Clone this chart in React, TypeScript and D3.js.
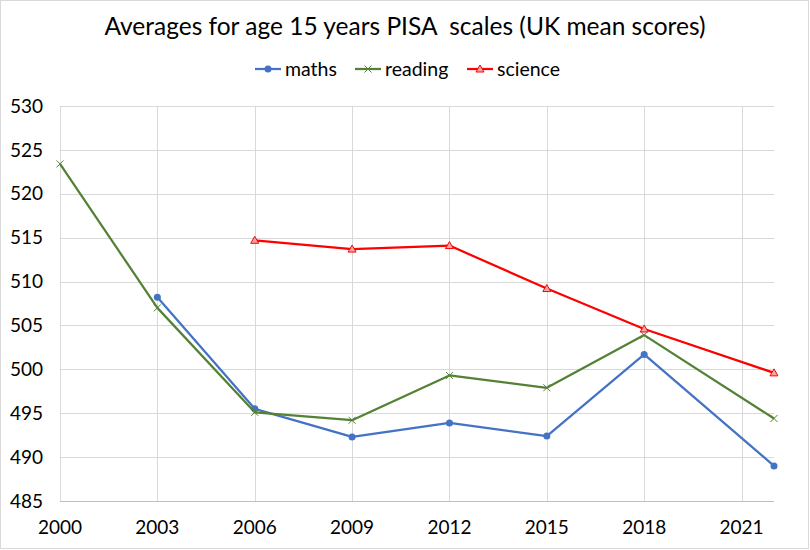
import React, { useEffect, useRef } from "react";
import * as d3 from "d3";

const years = [2000, 2003, 2006, 2009, 2012, 2015, 2018, 2022];
const xTicks = [2000, 2003, 2006, 2009, 2012, 2015, 2018, 2021];
const yTicks = [485, 490, 495, 500, 505, 510, 515, 520, 525, 530];

const maths: (number | null)[] = [null, 508.2, 495.5, 492.3, 493.9, 492.4, 501.7, 489.0];
const reading: (number | null)[] = [523.4, 507.0, 495.1, 494.2, 499.3, 497.9, 503.9, 494.4];
const science: (number | null)[] = [null, null, 514.7, 513.7, 514.1, 509.2, 504.6, 499.6];

const seriesNames = ["maths", "reading", "science"];
const seriesColors = ["#4472C4", "#548235", "#FF0000"];

const FONT = "Lato, 'Open Sans', sans-serif";

const App: React.FC = () => {
  const svgRef = useRef<SVGSVGElement | null>(null);

  useEffect(() => {
    if (!svgRef.current) return;
    const svg = d3.select(svgRef.current);
    svg.selectAll("*").remove();

    const width = 810;
    const height = 550;
    const margin = { top: 106, right: 36, bottom: 49, left: 60 };

    // chart frame
    svg
      .append("rect")
      .attr("x", 0.5)
      .attr("y", 0.5)
      .attr("width", width - 2)
      .attr("height", height - 2)
      .attr("fill", "white")
      .attr("stroke", "#d9d9d9");

    const xScale = d3
      .scaleLinear()
      .domain([2000, 2022])
      .range([margin.left, width - margin.right]);

    const yScale = d3
      .scaleLinear()
      .domain([485, 530])
      .range([height - margin.bottom, margin.top]);

    // gridlines
    svg
      .append("g")
      .selectAll("line.hgrid")
      .data(yTicks)
      .enter()
      .append("line")
      .attr("x1", margin.left)
      .attr("x2", width - margin.right)
      .attr("y1", (d) => Math.round(yScale(d)) + 0.5)
      .attr("y2", (d) => Math.round(yScale(d)) + 0.5)
      .attr("stroke", "#d9d9d9")
      .attr("stroke-width", 1);

    svg
      .append("g")
      .selectAll("line.vgrid")
      .data(xTicks)
      .enter()
      .append("line")
      .attr("x1", (d) => Math.round(xScale(d)) + 0.5)
      .attr("x2", (d) => Math.round(xScale(d)) + 0.5)
      .attr("y1", margin.top)
      .attr("y2", height - margin.bottom)
      .attr("stroke", "#d9d9d9")
      .attr("stroke-width", 1);

    // y tick labels
    svg
      .append("g")
      .selectAll("text")
      .data(yTicks)
      .enter()
      .append("text")
      .attr("x", 43)
      .attr("y", (d) => yScale(d))
      .attr("dy", "0.35em")
      .attr("text-anchor", "end")
      .style("font-family", FONT)
      .style("font-size", "19px")
      .attr("fill", "#000")
      .text((d) => d);

    // x tick labels
    svg
      .append("g")
      .selectAll("text")
      .data(xTicks)
      .enter()
      .append("text")
      .attr("x", (d) => xScale(d))
      .attr("y", 534)
      .attr("text-anchor", "middle")
      .style("font-family", FONT)
      .style("font-size", "19px")
      .attr("fill", "#000")
      .text((d) => d);

    // title
    svg
      .append("text")
      .attr("x", 405)
      .attr("y", 35)
      .attr("text-anchor", "middle")
      .style("font-family", FONT)
      .style("font-size", "24.5px")
      .attr("fill", "#000")
      .text("Averages for age 15 years PISA\u00a0 scales (UK mean scores)");

    const allSeries = [maths, reading, science];

    const drawMarker = (
      g: d3.Selection<SVGGElement, unknown, null, undefined>,
      idx: number,
      cx: number,
      cy: number
    ) => {
      const color = seriesColors[idx];
      if (idx === 0) {
        g.append("circle")
          .attr("cx", cx)
          .attr("cy", cy)
          .attr("r", 3.5)
          .attr("fill", color);
      } else if (idx === 1) {
        const s = 3.5;
        g.append("path")
          .attr("d", `M${cx - s},${cy - s}L${cx + s},${cy + s}M${cx - s},${cy + s}L${cx + s},${cy - s}`)
          .attr("stroke", color)
          .attr("stroke-width", 1);
      } else {
        const s = 4;
        g.append("path")
          .attr("d", `M${cx},${cy - s}L${cx + s},${cy + s * 0.75}L${cx - s},${cy + s * 0.75}Z`)
          .attr("fill", "#f4a6a6")
          .attr("stroke", color)
          .attr("stroke-width", 1);
      }
    };

    allSeries.forEach((values, idx) => {
      const pts = years
        .map((yr, i) => [yr, values[i]] as [number, number | null])
        .filter((p) => p[1] !== null) as [number, number][];

      const line = d3
        .line<[number, number]>()
        .x((d) => xScale(d[0]))
        .y((d) => yScale(d[1]));

      const g = svg.append("g");
      g.append("path")
        .datum(pts)
        .attr("d", line)
        .attr("fill", "none")
        .attr("stroke", seriesColors[idx])
        .attr("stroke-width", 2.25)
        .attr("stroke-linejoin", "round");

      pts.forEach((p) => drawMarker(g, idx, xScale(p[0]), yScale(p[1])));
    });

    // bottom axis line
    svg
      .append("line")
      .attr("x1", margin.left)
      .attr("x2", width - margin.right)
      .attr("y1", Math.round(yScale(485)) + 0.5)
      .attr("y2", Math.round(yScale(485)) + 0.5)
      .attr("stroke", "#bfbfbf");

    // legend
    const legendX = [255, 355, 467];
    const legendY = 69;
    seriesNames.forEach((name, idx) => {
      const g = svg.append("g");
      g.append("line")
        .attr("x1", legendX[idx])
        .attr("x2", legendX[idx] + 26)
        .attr("y1", legendY)
        .attr("y2", legendY)
        .attr("stroke", seriesColors[idx])
        .attr("stroke-width", 2.25);
      drawMarker(g, idx, legendX[idx] + 13, legendY);
      g.append("text")
        .attr("x", legendX[idx] + 30)
        .attr("y", legendY)
        .attr("dy", "0.35em")
        .style("font-family", FONT)
        .style("font-size", "19.5px")
        .attr("fill", "#000")
        .text(name);
    });
  }, []);

  return (
    <div style={{ position: "absolute", left: 0, top: 0 }}>
      <svg width="810" height="550" ref={svgRef} style={{ display: "block" }}></svg>
    </div>
  );
};

export default App;
